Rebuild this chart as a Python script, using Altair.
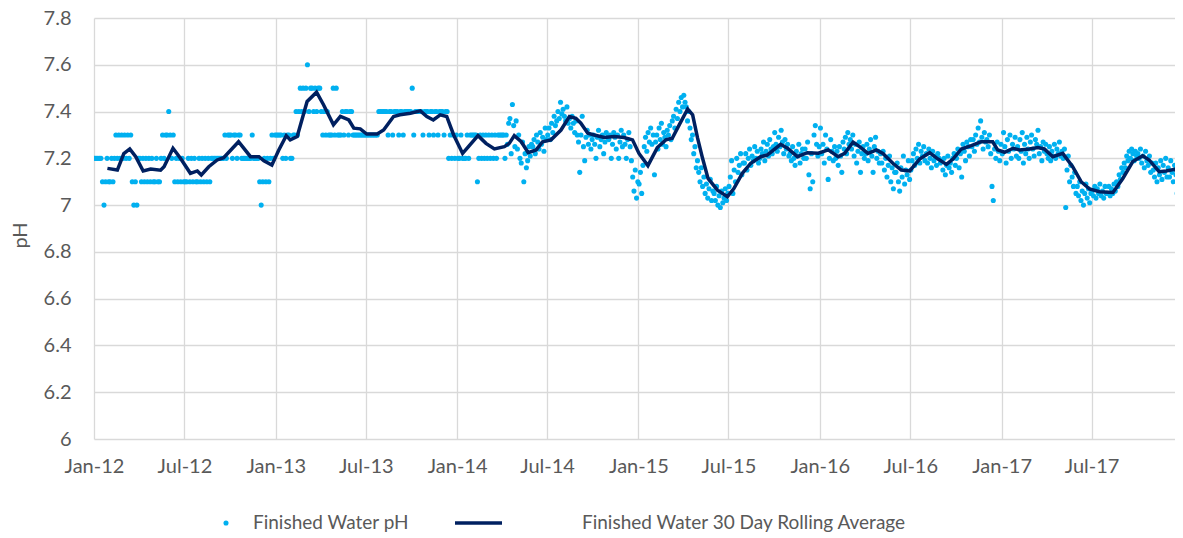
import altair as alt
import pandas as pd
import calendar

# ---------------- data ----------------
# Finished water pH readings, one string per month (Jan..Dec), readings in date order
ph_2012 = [
    "7.2 7.2 7.2 7.2 7.2 7.1 7.0 7.1 7.2 7.1",
    "7.1 7.2 7.1 7.2 7.3 7.2 7.3 7.2 7.3 7.2",
    "7.3 7.2 7.3 7.2 7.3 7.1 7.0 7.1 7.0 7.2",
    "7.2 7.1 7.2 7.1 7.2 7.1 7.2 7.1 7.2 7.1",
    "7.1 7.2 7.1 7.1 7.2 7.3 7.2 7.3 7.3 7.4",
    "7.3 7.2 7.3 7.1 7.2 7.1 7.2 7.1 7.2 7.1",
    "7.1 7.1 7.2 7.1 7.2 7.1 7.2 7.1 7.1 7.2",
    "7.1 7.2 7.1 7.2 7.1 7.2 7.1 7.2 7.2 7.2",
    "7.2 7.2 7.2 7.2 7.2 7.2 7.3 7.2 7.3 7.3",
    "7.3 7.2 7.3 7.3 7.2 7.3 7.3 7.2 7.2 7.2",
    "7.2 7.2 7.2 7.2 7.3 7.2 7.2 7.2 7.2 7.1",
    "7.0 7.1 7.2 7.1 7.2 7.1 7.2 7.3 7.2 7.3",
]
ph_2013 = [
    "7.3 7.3 7.3 7.3 7.2 7.3 7.2 7.3 7.3 7.2",
    "7.2 7.3 7.3 7.4 7.3 7.4 7.5 7.4 7.5 7.4",
    "7.5 7.6 7.4 7.5 7.5 7.4 7.5 7.4 7.5 7.5",
    "7.4 7.3 7.4 7.3 7.4 7.3 7.3 7.3 7.5 7.3",
    "7.5 7.3 7.3 7.3 7.4 7.3 7.4 7.4 7.3 7.4",
    "7.4 7.3 7.3 7.3 7.3 7.3 7.3 7.3 7.3 7.3",
    "7.3 7.3 7.3 7.3 7.3 7.3 7.3 7.3 7.4 7.4",
    "7.4 7.4 7.4 7.4 7.3 7.4 7.4 7.3 7.4 7.4",
    "7.4 7.3 7.4 7.4 7.3 7.4 7.4 7.4 7.4 7.4",
    "7.5 7.3 7.4 7.4 7.4 7.4 7.4 7.3 7.4 7.4",
    "7.4 7.3 7.4 7.4 7.3 7.4 7.4 7.3 7.4 7.4",
    "7.4 7.3 7.4 7.4 7.2 7.3 7.2 7.3 7.2 7.3",
]
ph_2014 = [
    "7.2 7.2 7.3 7.2 7.2 7.2 7.3 7.2 7.3 7.3",
    "7.3 7.3 7.3 7.1 7.2 7.3 7.2 7.3 7.2 7.3",
    "7.2 7.3 7.2 7.3 7.2 7.3 7.2 7.3 7.3 7.3",
    "7.3 7.3 7.2 7.3 7.26 7.35 7.37 7.22 7.43 7.34 7.25 7.36",
    "7.24 7.3 7.2 7.18 7.27 7.1 7.22 7.16 7.19 7.25 7.21 7.26",
    "7.25 7.28 7.22 7.3 7.27 7.24 7.31 7.26 7.29 7.23 7.33 7.28",
    "7.3 7.33 7.28 7.35 7.31 7.38 7.34 7.36 7.4 7.37 7.44 7.39",
    "7.41 7.38 7.36 7.42 7.35 7.37 7.33 7.38 7.35 7.31 7.36 7.3",
    "7.27 7.14 7.3 7.38 7.25 7.19 7.29 7.32 7.26 7.3 7.24 7.28",
    "7.3 7.26 7.2 7.29 7.32 7.25 7.28 7.3 7.22 7.27 7.31 7.29",
    "7.28 7.3 7.2 7.26 7.31 7.29 7.24 7.3 7.2 7.27 7.32 7.25",
    "7.3 7.26 7.2 7.28 7.31 7.25 7.19 7.12 7.06 7.15 7.03 7.1",
]
ph_2015 = [
    "7.09 7.14 7.05 7.17 7.25 7.29 7.23 7.31 7.27 7.33 7.26 7.3",
    "7.13 7.27 7.3 7.24 7.33 7.28 7.35 7.26 7.31 7.29 7.25 7.32",
    "7.3 7.34 7.28 7.36 7.38 7.33 7.41 7.37 7.44 7.4 7.46 7.42",
    "7.47 7.44 7.42 7.36 7.4 7.33 7.28 7.3 7.22 7.25 7.16 7.19",
    "7.14 7.1 7.16 7.08 7.12 7.05 7.09 7.03 7.07 7.11 7.02 7.06",
    "7.05 7.02 7.08 7.0 7.04 6.99 7.06 7.01 7.03 7.07 7.02 7.05",
    "7.08 7.12 7.19 7.05 7.15 7.1 7.2 7.14 7.17 7.22 7.13 7.18",
    "7.18 7.22 7.15 7.2 7.24 7.17 7.21 7.19 7.25 7.2 7.23 7.18",
    "7.2 7.24 7.22 7.27 7.19 7.23 7.26 7.21 7.28 7.24 7.22 7.25",
    "7.31 7.26 7.23 7.29 7.25 7.32 7.27 7.22 7.28 7.24 7.26 7.21",
    "7.22 7.19 7.25 7.2 7.17 7.23 7.21 7.26 7.18 7.22 7.24 7.2",
    "7.24 7.2 7.27 7.13 7.07 7.22 7.1 7.3 7.34 7.26 7.21 7.25",
]
ph_2016 = [
    "7.33 7.22 7.26 7.18 7.3 7.24 7.11 7.2 7.28 7.23 7.19 7.25",
    "7.2 7.23 7.17 7.25 7.21 7.14 7.27 7.24 7.29 7.22 7.31 7.26",
    "7.28 7.24 7.3 7.21 7.26 7.18 7.23 7.27 7.14 7.22 7.25 7.2",
    "7.22 7.26 7.19 7.24 7.28 7.21 7.14 7.25 7.29 7.2 7.23 7.18",
    "7.22 7.18 7.23 7.15 7.2 7.12 7.17 7.21 7.1 7.16 7.07 7.14",
    "7.14 7.18 7.1 7.06 7.16 7.12 7.21 7.09 7.15 7.13 7.19 7.11",
    "7.15 7.19 7.22 7.17 7.24 7.2 7.26 7.18 7.23 7.21 7.25 7.19",
    "7.22 7.18 7.24 7.2 7.16 7.23 7.19 7.21 7.17 7.22 7.2 7.18",
    "7.19 7.15 7.2 7.13 7.17 7.21 7.16 7.18 7.14 7.2 7.22 7.17",
    "7.2 7.24 7.16 7.22 7.12 7.26 7.23 7.19 7.27 7.25 7.21 7.28",
    "7.25 7.28 7.23 7.3 7.26 7.33 7.27 7.36 7.29 7.24 7.31 7.27",
    "7.28 7.25 7.3 7.22 7.08 7.02 7.24 7.2 7.27 7.23 7.19 7.26",
]
ph_2017 = [
    "7.22 7.31 7.25 7.18 7.28 7.23 7.3 7.2 7.26 7.24 7.29 7.21",
    "7.25 7.2 7.28 7.23 7.31 7.18 7.26 7.22 7.29 7.24 7.2 7.27",
    "7.3 7.24 7.21 7.28 7.26 7.32 7.22 7.25 7.19 7.27 7.23 7.26",
    "7.22 7.2 7.25 7.19 7.23 7.21 7.26 7.2 7.24 7.22 7.27 7.21",
    "7.23 7.2 7.24 6.99 7.15 7.21 7.1 7.17 7.12 7.08 7.14 7.05",
    "7.08 7.04 7.1 7.02 7.06 7.0 7.05 7.09 7.03 7.07 7.01 7.05",
    "7.06 7.04 7.08 7.03 7.07 7.05 7.09 7.04 7.06 7.03 7.08 7.05",
    "7.05 7.08 7.04 7.07 7.05 7.09 7.06 7.1 7.08 7.13 7.11 7.16",
    "7.14 7.18 7.16 7.21 7.19 7.23 7.2 7.24 7.22 7.19 7.23 7.21",
    "7.22 7.2 7.24 7.18 7.21 7.16 7.23 7.19 7.17 7.21 7.14 7.18",
    "7.15 7.12 7.18 7.1 7.16 7.13 7.19 7.11 7.17 7.14 7.2 7.12",
    "7.16 7.12 7.19 7.14 7.1 7.17 7.13 7.05 7.18 7.15 7.2 7.11",
]

# 30 day rolling average: days since 2012-01-01 and value
avg_day = [27, 47, 60, 72, 84, 99, 114, 134, 141, 159, 174, 194, 208, 216, 231,
           248, 261, 291, 315, 332, 342, 358, 372, 387, 395, 409, 429, 448, 462,
           482, 496, 513, 523, 536, 549, 570, 583, 603, 616, 637, 657, 670, 683,
           697, 710, 724, 742, 773, 789, 806, 826, 836, 846, 860, 874, 890, 903,
           920, 940, 957, 970, 980, 994, 1007, 1027, 1047, 1067, 1084, 1097, 1115,
           1134, 1151, 1164, 1178, 1195, 1205, 1215, 1225, 1236, 1255, 1275, 1288,
           1305, 1322, 1342, 1355, 1382, 1396, 1416, 1436, 1458, 1478, 1498, 1511,
           1528, 1541, 1558, 1575, 1588, 1608, 1625, 1642, 1662, 1682, 1699, 1716,
           1729, 1746, 1766, 1786, 1809, 1819, 1833, 1850, 1863, 1883, 1900, 1913,
           1930, 1950, 1970, 1987, 2004, 2024, 2051, 2071, 2091, 2111, 2124, 2144,
           2158, 2175, 2190]
avg_ph = [7.157, 7.15, 7.22, 7.24, 7.207, 7.146, 7.154, 7.149, 7.164, 7.243, 7.2,
          7.136, 7.146, 7.129, 7.164, 7.193, 7.203, 7.271, 7.207, 7.207, 7.189,
          7.171, 7.236, 7.297, 7.279, 7.293, 7.443, 7.483, 7.429, 7.343, 7.379,
          7.364, 7.329, 7.326, 7.304, 7.304, 7.321, 7.379, 7.386, 7.393, 7.403,
          7.379, 7.364, 7.386, 7.379, 7.30, 7.221, 7.297, 7.264, 7.24, 7.25, 7.264,
          7.297, 7.271, 7.224, 7.236, 7.271, 7.279, 7.321, 7.379, 7.371, 7.35,
          7.307, 7.3, 7.289, 7.293, 7.289, 7.279, 7.221, 7.169, 7.246, 7.279,
          7.286, 7.343, 7.411, 7.386, 7.286, 7.2, 7.114, 7.064, 7.036, 7.071,
          7.136, 7.179, 7.207, 7.214, 7.26, 7.243, 7.207, 7.224, 7.222, 7.236,
          7.207, 7.221, 7.269, 7.25, 7.221, 7.236, 7.221, 7.179, 7.15, 7.146,
          7.197, 7.224, 7.197, 7.174, 7.197, 7.24, 7.254, 7.271, 7.271, 7.236,
          7.226, 7.243, 7.236, 7.24, 7.246, 7.24, 7.207, 7.221, 7.164, 7.1, 7.069,
          7.057, 7.054, 7.114, 7.186, 7.211, 7.193, 7.143, 7.146, 7.153, 7.129]

x_ticks = ["2012-01-01", "2012-07-01", "2013-01-01", "2013-07-01", "2014-01-01",
           "2014-07-01", "2015-01-01", "2015-07-01", "2016-01-01", "2016-07-01",
           "2017-01-01", "2017-07-01"]
y_ticks = [6, 6.2, 6.4, 6.6, 6.8, 7, 7.2, 7.4, 7.6, 7.8]
legend_labels = ["Finished Water pH", "Finished Water 30 Day Rolling Average"]

# ---------------- build tables ----------------
def ms(ts):
    t = pd.Timestamp(ts)
    if t.tzinfo is None:
        t = t.tz_localize("UTC")
    return int(t.timestamp() * 1000)

years = {2012: ph_2012, 2013: ph_2013, 2014: ph_2014, 2015: ph_2015, 2016: ph_2016, 2017: ph_2017}
rows = []
for year, months in years.items():
    for m, s in enumerate(months, start=1):
        vals = [float(v) for v in s.split()]
        ndays = calendar.monthrange(year, m)[1]
        start = pd.Timestamp(year=year, month=m, day=1)
        for i, v in enumerate(vals):
            t = start + pd.Timedelta(days=(i + 0.5) * ndays / len(vals))
            rows.append({"t": ms(t), "ph": v})
pts = pd.DataFrame(rows)

base = pd.Timestamp("2012-01-01")
line_df = pd.DataFrame({"t": [ms(base + pd.Timedelta(days=d)) for d in avg_day], "ph": avg_ph})

FONT = "Lato"
GREY = "#595959"
PT = "#00B0F0"
LN = "#002060"
PH = 421  # plot height

x_scale = alt.Scale(type="utc", domain=[ms("2012-01-01"), ms("2017-12-16")])
y_scale = alt.Scale(domain=[6, 7.8], nice=False, zero=False)

x_axis = alt.Axis(values=[ms(v) for v in x_ticks], format="%b-%y", title=None,
                  grid=True, gridColor="#D9D9D9", gridWidth=1.3, domain=False,
                  ticks=False, tickSize=0, labelFont=FONT, labelFontSize=20,
                  labelColor=GREY, labelPadding=17, labelFlush=False, labelOverlap=False)
y_axis = alt.Axis(values=y_ticks,
                  labelExpr="abs(datum.value - round(datum.value)) < 0.001 ? format(datum.value, '.0f') : format(datum.value, '.1f')",
                  title="pH", titleFont=FONT, titleFontSize=20, titleFontWeight="normal",
                  titleColor=GREY, titleX=-68, titleY=217, titleBaseline="alphabetic",
                  titleAngle=270, grid=True, gridColor="#D9D9D9", gridWidth=1.3,
                  domain=False, ticks=False, tickSize=0, labelFont=FONT,
                  labelFontSize=20, labelColor=GREY, labelPadding=23)

points = alt.Chart(pts).mark_circle(size=26, color=PT, opacity=1, clip=True).encode(
    x=alt.X("t:T", scale=x_scale, axis=x_axis),
    y=alt.Y("ph:Q", scale=y_scale, axis=y_axis),
)
line = alt.Chart(line_df).mark_line(color=LN, strokeWidth=3.5, clip=True).encode(
    x=alt.X("t:T", scale=x_scale),
    y=alt.Y("ph:Q", scale=y_scale),
)

LEG_Y = 505
leg1 = pd.DataFrame({"label": [legend_labels[0]]})
leg2 = pd.DataFrame({"label": [legend_labels[1]]})
leg_pt = alt.Chart(leg1).mark_circle(size=26, color=PT, opacity=1).encode(
    x=alt.value(132), y=alt.value(LEG_Y))
leg_pt_txt = alt.Chart(leg1).mark_text(align="left", baseline="middle", font=FONT,
                                       fontSize=19, color=GREY).encode(
    x=alt.value(159), y=alt.value(LEG_Y), text="label:N")
leg_ln = alt.Chart(leg2).mark_rule(color=LN, strokeWidth=3.5).encode(
    x=alt.value(361), x2=alt.value(408), y=alt.value(LEG_Y))
leg_ln_txt = alt.Chart(leg2).mark_text(align="left", baseline="middle", font=FONT,
                                       fontSize=19, color=GREY).encode(
    x=alt.value(488), y=alt.value(LEG_Y), text="label:N")

chart = alt.layer(points, line, leg_pt, leg_pt_txt, leg_ln, leg_ln_txt).properties(
    width=1081, height=PH,
    autosize=alt.AutoSizeParams(type="none"),
    padding={"left": 86, "top": 10, "right": 0, "bottom": 99},
    background="white",
).configure_view(stroke=None)

chart.save("out.html", embed_options={"renderer": "svg", "actions": False})
